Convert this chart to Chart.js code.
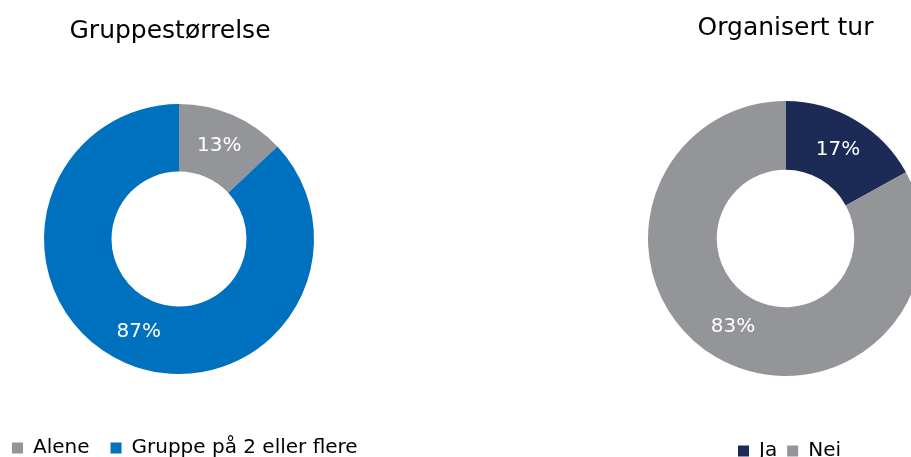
<!DOCTYPE html>
<html><head><meta charset="utf-8">
<script src="https://cdn.jsdelivr.net/npm/chart.js@4"></script>
<style>
html,body{margin:0;padding:0;width:911px;height:457px;overflow:hidden;background:#fff;position:relative;}
.box{position:absolute;top:0;}
</style></head><body>
<div class="box" style="left:-50px;width:458px;height:468px"><canvas id="c1"></canvas></div>
<div class="box" style="left:636px;width:299px;height:471px"><canvas id="c2"></canvas></div>
<script>
const groupTitle = 'Gruppestørrelse';
const groupLabels = ['Alene', 'Gruppe på 2 eller flere'];
const groupValues = [13, 87];
const tourTitle = 'Organisert tur';
const tourLabels = ['Ja', 'Nei'];
const tourValues = [17, 83];

const FONT = 'DejaVu Sans';
const GRAY = '#939598';
const BLUE = '#0071BE';
const NAVY = '#1C2A56';

const pctLabels = {
  id: 'pctLabels',
  afterDatasetsDraw(chart) {
    const ctx = chart.ctx;
    const meta = chart.getDatasetMeta(0);
    const data = chart.data.datasets[0].data;
    ctx.save();
    ctx.fillStyle = '#ffffff';
    ctx.font = '20px ' + FONT;
    ctx.textAlign = 'center';
    ctx.textBaseline = 'middle';
    meta.data.forEach((arc, i) => {
      const p = arc.tooltipPosition();
      ctx.fillText(data[i] + '%', p.x, p.y);
    });
    ctx.restore();
  }
};

const nudge = {
  id: 'nudge',
  afterLayout(chart, args, opts) {
    if (opts.titleDx && chart.titleBlock) { chart.titleBlock.left += opts.titleDx; chart.titleBlock.right += opts.titleDx; }
    if (opts.legendDx && chart.legend) { chart.legend.left += opts.legendDx; chart.legend.right += opts.legendDx; }
  }
};

function makeChart(id, title, labels, values, colors, cfg) {
  return new Chart(document.getElementById(id), {
    type: 'doughnut',
    data: {
      labels: labels,
      datasets: [{ data: values, backgroundColor: colors, borderWidth: 0, hoverOffset: 0 }]
    },
    options: {
      responsive: true,
      maintainAspectRatio: false,
      animation: false,
      radius: cfg.radius,
      cutout: '50%',
      layout: { padding: 0 },
      plugins: {
        tooltip: { enabled: false },
        title: {
          display: true, text: title, color: '#000',
          font: { family: FONT, size: 25, weight: 'normal' },
          padding: { top: cfg.tTop, bottom: cfg.tBottom }
        },
        legend: {
          position: 'bottom', align: cfg.align,
          labels: {
            color: '#000', boxWidth: 11, boxHeight: 11, padding: cfg.lPad,
            font: { family: FONT, size: 20 }
          }
        },
        nudge: { titleDx: cfg.titleDx, legendDx: cfg.legendDx }
      }
    },
    plugins: [pctLabels, nudge]
  });
}

makeChart('c1', groupTitle, groupLabels, groupValues, [GRAY, BLUE],
  { radius: 135, tTop: 16, tBottom: 15, lPad: 21, align: 'start', titleDx: -9, legendDx: 41 });
makeChart('c2', tourTitle, tourLabels, tourValues, [NAVY, GRAY],
  { radius: 137.5, tTop: 13, tBottom: 3, lPad: 10, align: 'center', titleDx: 0, legendDx: 4 });
</script>
</body></html>
